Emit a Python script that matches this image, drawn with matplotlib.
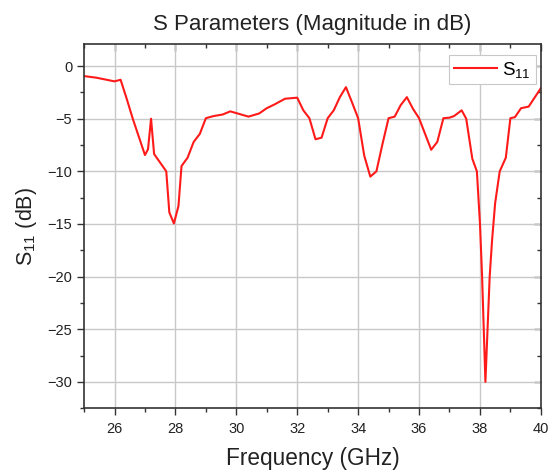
import matplotlib
matplotlib.use("Agg")
import matplotlib.pyplot as plt
from matplotlib.ticker import MultipleLocator

plt.rcParams['font.family'] = ['Liberation Sans', 'DejaVu Sans']
plt.rcParams['mathtext.fontset'] = 'custom'
plt.rcParams['mathtext.rm'] = 'Liberation Sans'
plt.rcParams['mathtext.it'] = 'Liberation Sans:italic'
plt.rcParams['mathtext.bf'] = 'Liberation Sans:bold'

freq = [25.0, 25.4, 26.0, 26.2, 26.4, 26.6, 27.0, 27.1, 27.2, 27.3, 27.7, 27.8,
        27.95, 28.1, 28.2, 28.4, 28.6, 28.8, 29.0, 29.25, 29.55, 29.8, 30.1,
        30.4, 30.75, 31.0, 31.25, 31.6, 32.0, 32.2, 32.4, 32.6, 32.8, 33.0,
        33.2, 33.4, 33.6, 33.8, 34.0, 34.2, 34.4, 34.6, 34.8, 35.0, 35.2, 35.4,
        35.6, 35.8, 36.0, 36.2, 36.4, 36.6, 36.8, 37.0, 37.15, 37.4, 37.55,
        37.75, 37.9, 38.0, 38.07, 38.18, 38.32, 38.4, 38.5, 38.65, 38.85, 39.0,
        39.15, 39.35, 39.6, 40.0]
s11 = [-0.95, -1.1, -1.45, -1.3, -3.1, -5.0, -8.45, -7.9, -5.0, -8.35, -10.0,
       -13.9, -14.95, -13.3, -9.5, -8.7, -7.2, -6.45, -4.95, -4.75, -4.6, -4.3,
       -4.55, -4.8, -4.5, -4.0, -3.65, -3.1, -3.0, -4.2, -4.95, -6.95, -6.8,
       -4.95, -4.2, -2.95, -2.0, -3.45, -4.95, -8.5, -10.5, -10.0, -7.4, -4.95,
       -4.8, -3.7, -2.95, -4.05, -4.95, -6.45, -7.95, -7.2, -4.95, -4.9, -4.75,
       -4.2, -5.0, -8.8, -10.0, -14.9, -19.9, -30.0, -20.0, -16.5, -13.0,
       -10.0, -8.7, -4.95, -4.85, -4.0, -3.85, -2.1]

fig = plt.figure(figsize=(5.53, 4.73), dpi=100)
ax = fig.add_axes([0.152, 0.137, 0.826, 0.770])

ax.plot(freq, s11, color='#ff1a1a', lw=1.5, label='S$_{11}$')

ax.set_xlim(25, 40)
ax.set_ylim(-32.5, 2.1)
ax.xaxis.set_major_locator(MultipleLocator(2))
ax.xaxis.set_minor_locator(MultipleLocator(1))
ax.yaxis.set_major_locator(MultipleLocator(5))
ax.yaxis.set_minor_locator(MultipleLocator(2.5))
ax.set_xticks([26, 28, 30, 32, 34, 36, 38, 40])

ax.grid(True, which='major', color='#c8c8c8', lw=1.0)
ax.set_axisbelow(True)

for sp in ax.spines.values():
    sp.set_color('#333333')
    sp.set_linewidth(1.2)

ax.tick_params(which='both', direction='out', colors='#333333', labelcolor='#222222',
               labelsize=10.5, width=1.0)
ax.tick_params(which='major', length=5)
ax.tick_params(which='minor', length=3)
ax.tick_params(axis='x', which='major', pad=5)

# mirrored inward ticks on top/right
axt = ax.secondary_xaxis('top')
axt.set_xticks([26, 28, 30, 32, 34, 36, 38, 40])
axt.xaxis.set_minor_locator(MultipleLocator(1))
axt.tick_params(which='both', direction='in', labeltop=False, colors='#333333', width=1.0)
axt.tick_params(which='major', length=5)
axt.tick_params(which='minor', length=3)
axt.spines['top'].set_visible(False)
axr = ax.secondary_yaxis('right')
axr.yaxis.set_major_locator(MultipleLocator(5))
axr.yaxis.set_minor_locator(MultipleLocator(2.5))
axr.tick_params(which='both', direction='in', labelright=False, colors='#333333', width=1.0)
axr.tick_params(which='major', length=5)
axr.tick_params(which='minor', length=3)
axr.spines['right'].set_visible(False)

ax.set_title('S Parameters (Magnitude in dB)', fontsize=16, color='#222222', pad=10)
ax.set_xlabel('Frequency (GHz)', fontsize=16.3, color='#222222', labelpad=8)
ax.set_ylabel('S$_{11}$ (dB)', fontsize=15.5, color='#222222', labelpad=6)

leg = ax.legend(loc='upper right', bbox_to_anchor=(0.989, 0.970), fontsize=13.5,
                frameon=True, fancybox=False, framealpha=1, edgecolor='#c8c8c8',
                handlelength=2.3, borderpad=0.25, handletextpad=0.3,
                borderaxespad=0.0)
leg.get_frame().set_linewidth(0.8)

fig.savefig('out.png', dpi=100)
